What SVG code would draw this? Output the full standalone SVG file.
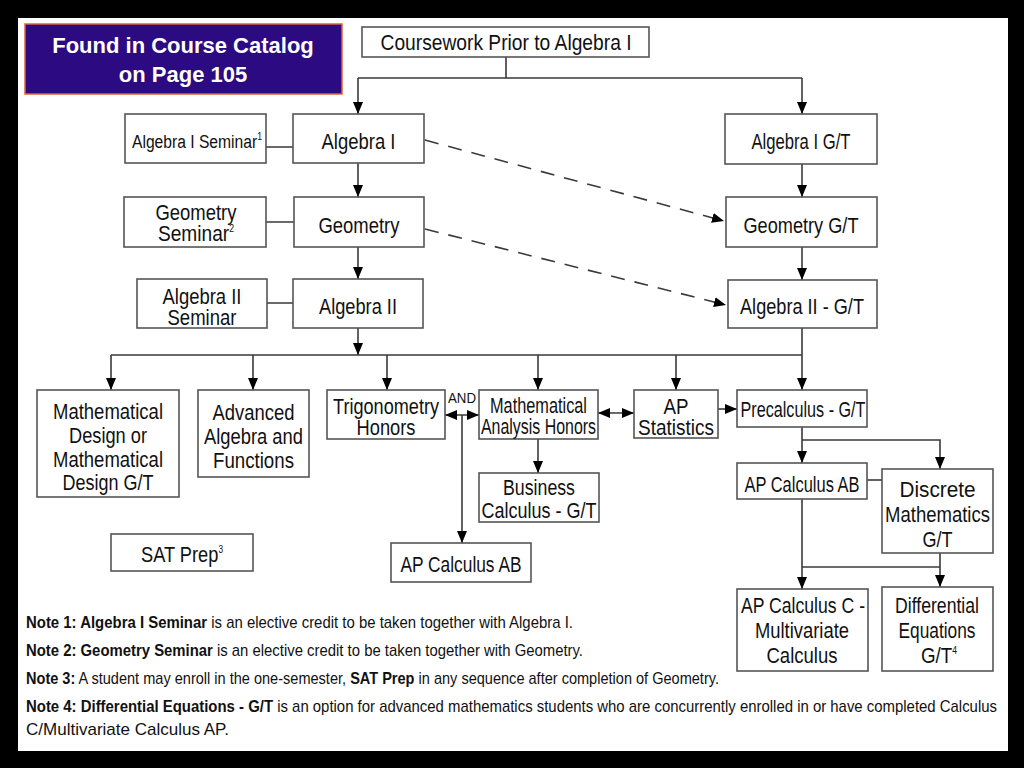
<svg xmlns="http://www.w3.org/2000/svg" width="1024" height="768" viewBox="0 0 1024 768">
<defs>
<style>
.box{fill:#fff;stroke:#555;stroke-width:1.6}
.t{font-family:"Liberation Sans",Arial,Helvetica,sans-serif;font-size:22px;fill:#111;text-anchor:middle}
.s{font-size:18px}
.sup{font-size:10px}
.n{font-family:"Liberation Sans",Arial,Helvetica,sans-serif;font-size:17px;fill:#111}
.b{font-weight:bold}
.c{fill:none;stroke:#3a3a3a;stroke-width:1.6}
.a{marker-end:url(#ah)}
.d{marker-start:url(#ah);marker-end:url(#ah)}
.dash{stroke-dasharray:14 10}
</style>
<marker id="ah" viewBox="0 0 12 10" refX="12" refY="5" markerWidth="12" markerHeight="10" markerUnits="userSpaceOnUse" orient="auto-start-reverse">
<path d="M0,0 L12,5 L0,10 Z" fill="#000"/>
</marker>
</defs>
<rect x="0" y="0" width="1024" height="768" fill="#000"/>
<rect x="18" y="18" width="990" height="733" fill="#fff"/>

<g id="catalog">
<rect x="25" y="24" width="317" height="70" fill="#2c0a82" stroke="#e0603c" stroke-width="1.5"/>
<text x="183" y="53" font-family="Liberation Sans,Arial,sans-serif" font-size="22" font-weight="bold" fill="#fff" text-anchor="middle">Found in Course Catalog</text>
<text x="183" y="82" font-family="Liberation Sans,Arial,sans-serif" font-size="22" font-weight="bold" fill="#fff" text-anchor="middle">on Page 105</text>
</g>

<g id="connectors">
<path class="c" d="M506 57 V78 M358 78 H802"/>
<path class="c a" d="M358 78 V114"/>
<path class="c a" d="M802 78 V114"/>
<path class="c" d="M266 147 H293 M266 222 H294 M267 303 H293"/>
<path class="c a" d="M358 163 V197"/>
<path class="c a" d="M358 247 V279"/>
<path class="c a" d="M358 328 V355"/>
<path class="c a" d="M802 164 V197"/>
<path class="c a" d="M802 247 V280"/>
<path class="c" d="M802 328 V355 M111 355 H802"/>
<path class="c a" d="M111 355 V390"/>
<path class="c a" d="M253 355 V390"/>
<path class="c a" d="M387 355 V390"/>
<path class="c a" d="M538 355 V390"/>
<path class="c a" d="M676 355 V390"/>
<path class="c a" d="M802 355 V390"/>
<path class="c a dash" d="M425 140 L724 221"/>
<path class="c a dash" d="M425 229 L726 305"/>
<path class="c d" d="M445 415 H479"/>
<path class="c a" d="M462 415 V543"/>
<path class="c d" d="M598 413 H634"/>
<path class="c a" d="M718 409 H737"/>
<path class="c a" d="M538 439 V473"/>
<path class="c a" d="M802 427 V463"/>
<path class="c a" d="M802 440 H940 V469"/>
<path class="c" d="M867 480 H882"/>
<path class="c a" d="M802 499 V589"/>
<path class="c" d="M802 567 H940"/>
<path class="c a" d="M940 553 V587"/>
</g>

<g id="coursework">
<rect class="box" x="362" y="27" width="287" height="30"/>
<text class="t" x="506" y="50" textLength="251" lengthAdjust="spacingAndGlyphs">Coursework Prior to Algebra I</text>
</g>
<g id="alg1sem">
<rect class="box" x="125" y="114" width="141" height="49"/>
<text class="t s" x="197" y="148" textLength="130" lengthAdjust="spacingAndGlyphs">Algebra I Seminar<tspan class="sup" dy="-8">1</tspan></text>
</g>
<g id="alg1">
<rect class="box" x="293" y="114" width="131" height="49"/>
<text class="t" x="358.5" y="149" textLength="74" lengthAdjust="spacingAndGlyphs">Algebra I</text>
</g>
<g id="alg1gt">
<rect class="box" x="725" y="114" width="152" height="50"/>
<text class="t" x="801" y="149" textLength="99" lengthAdjust="spacingAndGlyphs">Algebra I G/T</text>
</g>
<g id="geomsem">
<rect class="box" x="124" y="197" width="142" height="50"/>
<text class="t" x="196" y="220" textLength="81" lengthAdjust="spacingAndGlyphs">Geometry</text>
<text class="t" x="196" y="241" textLength="76" lengthAdjust="spacingAndGlyphs">Seminar<tspan class="sup" dy="-9">2</tspan></text>
</g>
<g id="geom">
<rect class="box" x="294" y="197" width="130" height="50"/>
<text class="t" x="359" y="233" textLength="81" lengthAdjust="spacingAndGlyphs">Geometry</text>
</g>
<g id="geomgt">
<rect class="box" x="726" y="197" width="151" height="50"/>
<text class="t" x="801" y="233" textLength="115" lengthAdjust="spacingAndGlyphs">Geometry G/T</text>
</g>
<g id="alg2sem">
<rect class="box" x="137" y="279" width="130" height="49"/>
<text class="t" x="202" y="304" textLength="79" lengthAdjust="spacingAndGlyphs">Algebra II</text>
<text class="t" x="202" y="325" textLength="69" lengthAdjust="spacingAndGlyphs">Seminar</text>
</g>
<g id="alg2">
<rect class="box" x="293" y="279" width="130" height="49"/>
<text class="t" x="358" y="314" textLength="78" lengthAdjust="spacingAndGlyphs">Algebra II</text>
</g>
<g id="alg2gt">
<rect class="box" x="728" y="280" width="149" height="48"/>
<text class="t" x="802" y="314" textLength="124" lengthAdjust="spacingAndGlyphs">Algebra II - G/T</text>
</g>
<g id="mathdesign">
<rect class="box" x="37" y="390" width="142" height="107"/>
<text class="t" x="108" y="419" textLength="110" lengthAdjust="spacingAndGlyphs">Mathematical</text>
<text class="t" x="108" y="443" textLength="78" lengthAdjust="spacingAndGlyphs">Design or</text>
<text class="t" x="108" y="467" textLength="110" lengthAdjust="spacingAndGlyphs">Mathematical</text>
<text class="t" x="108" y="490" textLength="91" lengthAdjust="spacingAndGlyphs">Design G/T</text>
</g>
<g id="advalg">
<rect class="box" x="198" y="390" width="111" height="87"/>
<text class="t" x="253.5" y="420" textLength="82" lengthAdjust="spacingAndGlyphs">Advanced</text>
<text class="t" x="253.5" y="444" textLength="99" lengthAdjust="spacingAndGlyphs">Algebra and</text>
<text class="t" x="253.5" y="468" textLength="81" lengthAdjust="spacingAndGlyphs">Functions</text>
</g>
<g id="trig">
<rect class="box" x="327" y="390" width="118" height="49"/>
<text class="t" x="386" y="414" textLength="106" lengthAdjust="spacingAndGlyphs">Trigonometry</text>
<text class="t" x="386" y="435" textLength="59" lengthAdjust="spacingAndGlyphs">Honors</text>
</g>
<g id="and">
<text class="t" x="462" y="403" style="font-size:14px" textLength="28" lengthAdjust="spacingAndGlyphs">AND</text>
</g>
<g id="mathanalysis">
<rect class="box" x="479" y="390" width="119" height="49"/>
<text class="t" x="538.5" y="413" textLength="97" lengthAdjust="spacingAndGlyphs">Mathematical</text>
<text class="t" x="538.5" y="434" textLength="115" lengthAdjust="spacingAndGlyphs">Analysis Honors</text>
</g>
<g id="apstats">
<rect class="box" x="634" y="390" width="84" height="48"/>
<text class="t" x="676" y="414" textLength="25" lengthAdjust="spacingAndGlyphs">AP</text>
<text class="t" x="676" y="435" textLength="76" lengthAdjust="spacingAndGlyphs">Statistics</text>
</g>
<g id="precalc">
<rect class="box" x="737" y="390" width="130" height="37"/>
<text class="t" x="803" y="417" textLength="125" lengthAdjust="spacingAndGlyphs">Precalculus - G/T</text>
</g>
<g id="business">
<rect class="box" x="479" y="473" width="120" height="49"/>
<text class="t" x="539" y="495" textLength="72" lengthAdjust="spacingAndGlyphs">Business</text>
<text class="t" x="539" y="518" textLength="115" lengthAdjust="spacingAndGlyphs">Calculus - G/T</text>
</g>
<g id="apcalcab1">
<rect class="box" x="391" y="543" width="140" height="39"/>
<text class="t" x="461" y="572" textLength="121" lengthAdjust="spacingAndGlyphs">AP Calculus AB</text>
</g>
<g id="satprep">
<rect class="box" x="111" y="534" width="142" height="37"/>
<text class="t" x="182" y="562" textLength="82" lengthAdjust="spacingAndGlyphs">SAT Prep<tspan class="sup" dy="-9">3</tspan></text>
</g>
<g id="apcalcab2">
<rect class="box" x="737" y="463" width="130" height="36"/>
<text class="t" x="802" y="492" textLength="115" lengthAdjust="spacingAndGlyphs">AP Calculus AB</text>
</g>
<g id="discrete">
<rect class="box" x="882" y="469" width="111" height="84"/>
<text class="t" x="937.5" y="497" textLength="76" lengthAdjust="spacingAndGlyphs">Discrete</text>
<text class="t" x="937.5" y="522" textLength="105" lengthAdjust="spacingAndGlyphs">Mathematics</text>
<text class="t" x="937.5" y="547" textLength="30" lengthAdjust="spacingAndGlyphs">G/T</text>
</g>
<g id="apcalcc">
<rect class="box" x="737" y="589" width="131" height="82"/>
<text class="t" x="803" y="613" textLength="124" lengthAdjust="spacingAndGlyphs">AP Calculus C -</text>
<text class="t" x="802" y="638" textLength="94" lengthAdjust="spacingAndGlyphs">Multivariate</text>
<text class="t" x="802" y="663" textLength="71" lengthAdjust="spacingAndGlyphs">Calculus</text>
</g>
<g id="diffeq">
<rect class="box" x="882" y="587" width="111" height="84"/>
<text class="t" x="937" y="613" textLength="84" lengthAdjust="spacingAndGlyphs">Differential</text>
<text class="t" x="937" y="638" textLength="77" lengthAdjust="spacingAndGlyphs">Equations</text>
<text class="t" x="939" y="663" textLength="36" lengthAdjust="spacingAndGlyphs">G/T<tspan class="sup" dy="-9">4</tspan></text>
</g>

<g id="notes">
<text class="n" x="26" y="628" textLength="547" lengthAdjust="spacingAndGlyphs"><tspan class="b">Note 1: Algebra I Seminar</tspan> is an elective credit to be taken together with Algebra I.</text>
<text class="n" x="26" y="656" textLength="557" lengthAdjust="spacingAndGlyphs"><tspan class="b">Note 2: Geometry Seminar</tspan> is an elective credit to be taken together with Geometry.</text>
<text class="n" x="26" y="684" textLength="693" lengthAdjust="spacingAndGlyphs"><tspan class="b">Note 3:</tspan> A student may enroll in the one-semester, <tspan class="b">SAT Prep</tspan> in any sequence after completion of Geometry.</text>
<text class="n" x="26" y="712" textLength="971" lengthAdjust="spacingAndGlyphs"><tspan class="b">Note 4: Differential Equations - G/T</tspan> is an option for advanced mathematics students who are concurrently enrolled in or have completed Calculus</text>
<text class="n" x="26" y="735" textLength="203" lengthAdjust="spacingAndGlyphs">C/Multivariate Calculus AP.</text>
</g>
</svg>
